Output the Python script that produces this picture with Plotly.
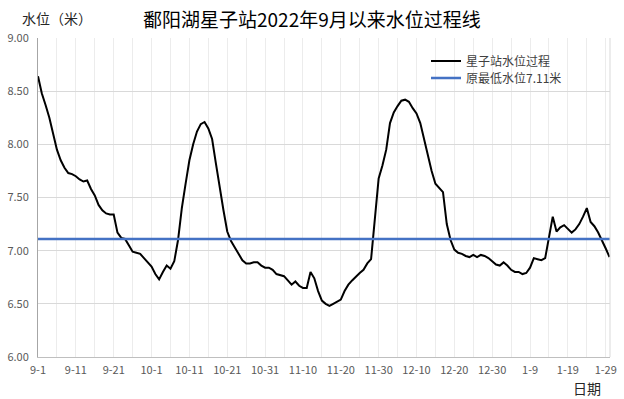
import plotly.graph_objects as go
import pandas as pd

start_date = "2022-09-01"
levels = [
    8.64, 8.48, 8.37, 8.25, 8.10, 7.95, 7.85, 7.78, 7.73, 7.72,
    7.70, 7.67, 7.65, 7.66, 7.58, 7.52, 7.43, 7.38, 7.35, 7.34,
    7.34, 7.17, 7.12, 7.11, 7.05, 6.99, 6.98, 6.97, 6.93, 6.89,
    6.85, 6.78, 6.73, 6.80, 6.86, 6.83, 6.90, 7.10, 7.40, 7.63,
    7.85, 8.00, 8.12, 8.19, 8.21, 8.15, 8.05, 7.82, 7.58, 7.38,
    7.18, 7.09, 7.03, 6.97, 6.91, 6.88, 6.88, 6.89, 6.89, 6.86,
    6.84, 6.84, 6.82, 6.78, 6.77, 6.76, 6.72, 6.68, 6.71, 6.67,
    6.65, 6.65, 6.80, 6.74, 6.62, 6.53, 6.50, 6.48, 6.50, 6.52,
    6.54, 6.62, 6.68, 6.72, 6.76, 6.79, 6.82, 6.88, 6.92, 7.30,
    7.68, 7.80, 7.95, 8.20, 8.30, 8.36, 8.41, 8.42, 8.40, 8.34,
    8.29, 8.20, 8.05, 7.90, 7.75, 7.63, 7.59, 7.55, 7.25, 7.10,
    7.01, 6.98, 6.97, 6.95, 6.94, 6.96, 6.94, 6.96, 6.95, 6.93,
    6.90, 6.87, 6.86, 6.89, 6.86, 6.82, 6.80, 6.80, 6.78, 6.79,
    6.84, 6.93, 6.92, 6.91, 6.93, 7.13, 7.32, 7.18, 7.22, 7.24,
    7.20, 7.17, 7.20, 7.25, 7.32, 7.40, 7.27, 7.23, 7.17, 7.10,
    7.02, 6.94,
]
dates = pd.date_range(start_date, periods=len(levels), freq="D")

min_level = 7.11
series_names = ["星子站水位过程", "原最低水位7.11米"]
tick_dates = pd.date_range(start_date, periods=16, freq="10D")
tick_labels = ["9-1", "9-11", "9-21", "10-1", "10-11", "10-21", "10-31", "11-10",
               "11-20", "11-30", "12-10", "12-20", "12-30", "1-9", "1-19", "1-29"]
y_ticks = [6.0, 6.5, 7.0, 7.5, 8.0, 8.5, 9.0]

font_family = "Noto Sans CJK SC, Noto Sans, sans-serif"

# plot area in pixels
L, R, T, B = 38, 610, 37.5, 356.7
W, H = 624, 399
PW, PH = R - L, B - T


def px(x):
    return (x - L) / PW


def py(y):
    return (B - y) / PH


fig = go.Figure()
fig.add_trace(go.Scatter(
    x=dates, y=levels, mode="lines", name=series_names[0],
    line=dict(color="#000000", width=2), legend="legend",
))
fig.add_trace(go.Scatter(
    x=[dates[0] - pd.Timedelta(days=1), dates[-1] + pd.Timedelta(days=2)],
    y=[min_level, min_level], mode="lines", name=series_names[1],
    line=dict(color="#4472C4", width=2.5), legend="legend2",
))

legend_style = dict(xanchor="left", yanchor="top", bgcolor="rgba(0,0,0,0)",
                    font=dict(size=12, color="#404040"), itemwidth=30)

fig.update_layout(
    width=W, height=H,
    margin=dict(l=L, r=W - R, t=T, b=H - B, autoexpand=False),
    paper_bgcolor="white", plot_bgcolor="white",
    font=dict(family=font_family, color="#595959", size=11),
    showlegend=True,
    legend=dict(x=px(426), y=py(46), **legend_style),
    legend2=dict(x=px(426), y=py(63), **legend_style),
    xaxis=dict(
        type="date", automargin=False,
        range=[dates[0], dates[-1] + pd.Timedelta(hours=3)],
        tickmode="array", tickvals=tick_dates, ticktext=tick_labels,
        showgrid=True, gridcolor="#ececec", gridwidth=1,
        minor=dict(dtick=5 * 86400000, tick0=start_date, showgrid=True,
                   gridcolor="#ececec", gridwidth=1),
        showline=True, linecolor="#bfbfbf", linewidth=1, mirror=False,
        ticks="", tickfont=dict(size=11, color="#595959"),
        ticklabelstandoff=3,
        zeroline=False,
    ),
    yaxis=dict(
        range=[6.0, 9.0], tickmode="array", tickvals=y_ticks,
        tickformat=".2f", automargin=False,
        showgrid=True, gridcolor="#d9d9d9", gridwidth=1,
        showline=True, linecolor="#a6a6a6", linewidth=1,
        ticks="", tickfont=dict(size=11, color="#595959"),
        ticklabelstandoff=6,
        zeroline=False,
    ),
    annotations=[
        dict(text="鄱阳湖星子站2022年9月以来水位过程线", xref="paper", yref="paper",
             x=px(312), y=py(18), xanchor="center", yanchor="middle",
             showarrow=False, font=dict(size=19, color="#000000", family=font_family)),
        dict(text="水位（米）", xref="paper", yref="paper",
             x=px(20), y=py(17), xanchor="left", yanchor="middle",
             showarrow=False, font=dict(size=14, color="#262626", family=font_family)),
        dict(text="日期", xref="paper", yref="paper",
             x=px(587), y=py(388), xanchor="center", yanchor="middle",
             showarrow=False, font=dict(size=14, color="#262626", family=font_family)),
    ],
)
fig.add_shape(type="line", xref="paper", yref="paper", x0=1, x1=1, y0=0, y1=1,
              line=dict(color="#d9d9d9", width=1))

fig.write_html("out.html", config={"displayModeBar": False},
               post_script="document.body.style.margin='0';document.body.style.padding='0';")
